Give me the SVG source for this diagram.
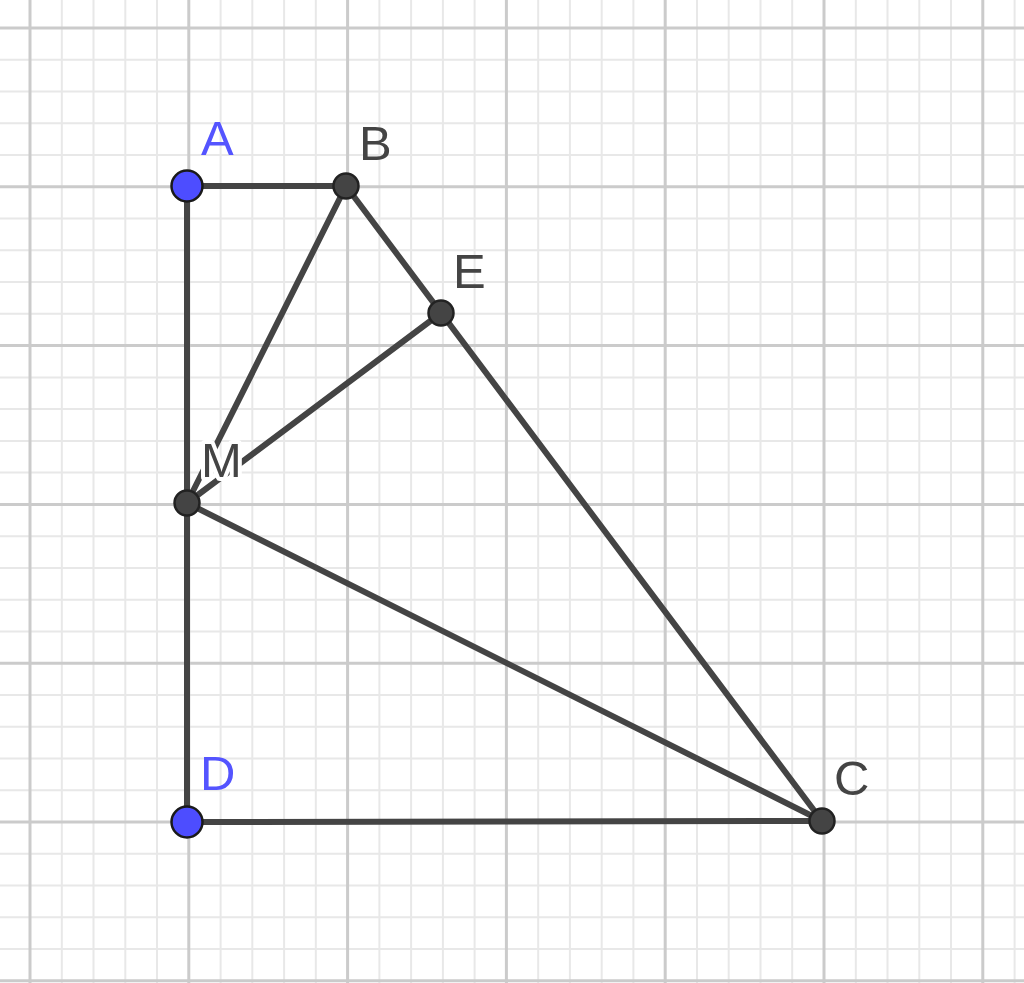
<svg xmlns="http://www.w3.org/2000/svg" width="1024" height="983" viewBox="0 0 1024 983">
<style>
.minor{stroke:#e8e8e8;stroke-width:2;fill:none}
.major{stroke:#cbcbcb;stroke-width:3;fill:none}
.seg{stroke:#444444;stroke-width:6;stroke-linecap:round;fill:none}
.pt-free{fill:#4d4dff;stroke:#1a1a1a;stroke-width:2.5}
.pt-dep{fill:#444444;stroke:#222222;stroke-width:2.5}
.lbl{font-family:"Liberation Sans",Arial,sans-serif;font-size:49px;fill:#444444}
.lbl-blue{fill:#5454ff}
.halo{stroke:#ffffff;stroke-width:8;paint-order:stroke;stroke-linejoin:round}
</style>
<rect width="1024" height="983" fill="#ffffff"/>
<g id="grid">
<path class="minor" d="M61.8 0V983M93.5 0V983M125.3 0V983M157 0V983M220.6 0V983M252.3 0V983M284.1 0V983M315.8 0V983M379.4 0V983M411.1 0V983M442.9 0V983M474.6 0V983M538.2 0V983M569.9 0V983M601.7 0V983M633.4 0V983M697 0V983M728.7 0V983M760.5 0V983M792.2 0V983M855.8 0V983M887.5 0V983M919.3 0V983M951 0V983M1014.6 0V983M0 59.8H1024M0 91.5H1024M0 123.3H1024M0 155H1024M0 218.6H1024M0 250.3H1024M0 282.1H1024M0 313.8H1024M0 377.4H1024M0 409.1H1024M0 440.9H1024M0 472.6H1024M0 536.2H1024M0 567.9H1024M0 599.7H1024M0 631.4H1024M0 695H1024M0 726.7H1024M0 758.5H1024M0 790.2H1024M0 853.8H1024M0 885.5H1024M0 917.3H1024M0 949H1024"/>
<path class="major" d="M30 0V983M188.8 0V983M347.6 0V983M506.4 0V983M665.2 0V983M824 0V983M982.8 0V983M0 28H1024M0 186.8H1024M0 345.6H1024M0 504.4H1024M0 663.2H1024M0 822H1024M0 980.8H1024"/>
</g>
<g id="connectors">
<line class="seg" x1="187" y1="186" x2="346" y2="186"/>
<line class="seg" x1="187" y1="186" x2="187" y2="822"/>
<line class="seg" x1="187" y1="822" x2="822" y2="821"/>
<line class="seg" x1="346" y1="186" x2="822" y2="821"/>
<line class="seg" x1="346" y1="186" x2="187" y2="503"/>
<line class="seg" x1="441" y1="313" x2="187" y2="503"/>
<line class="seg" x1="187" y1="503" x2="822" y2="821"/>
</g>
<g id="node-M">
<text class="lbl halo" x="201" y="477">M</text>
<circle class="pt-dep" cx="187" cy="503" r="12.5"/>
</g>
<g id="node-A">
<circle class="pt-free" cx="187" cy="186" r="15.5"/>
<text class="lbl lbl-blue" x="201" y="155">A</text>
</g>
<g id="node-B">
<circle class="pt-dep" cx="346" cy="186" r="12.5"/>
<text class="lbl" x="359" y="160">B</text>
</g>
<g id="node-E">
<circle class="pt-dep" cx="441" cy="313" r="12.5"/>
<text class="lbl" x="453" y="288">E</text>
</g>
<g id="node-D">
<circle class="pt-free" cx="187" cy="822" r="15.5"/>
<text class="lbl lbl-blue" x="200" y="790">D</text>
</g>
<g id="node-C">
<circle class="pt-dep" cx="822" cy="821" r="12.5"/>
<text class="lbl" x="834" y="795">C</text>
</g>
</svg>
